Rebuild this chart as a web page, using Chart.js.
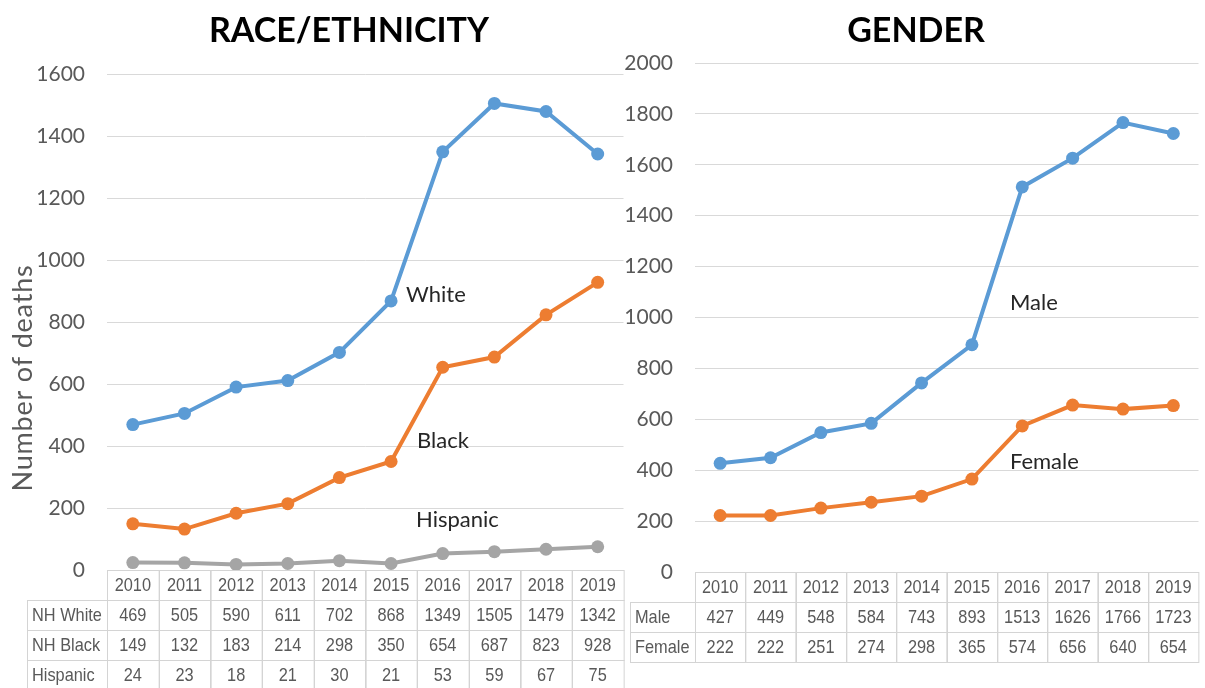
<!DOCTYPE html>
<html>
<head>
<meta charset="utf-8">
<script src="https://cdn.jsdelivr.net/npm/chart.js@4.4.1/dist/chart.umd.min.js"></script>
<style>
  body { margin: 0; background: #fff; width: 1205px; height: 688px; overflow: hidden; position: relative; }
  canvas { position: absolute; top: 0; }
  #race { left: 0; }
  #gender { left: 615px; }
</style>
</head>
<body>
<canvas id="race" width="630" height="688"></canvas>
<canvas id="gender" width="590" height="688"></canvas>
<script>
const years = ['2010', '2011', '2012', '2013', '2014', '2015', '2016', '2017', '2018', '2019'];

const nhWhite = [469, 505, 590, 611, 702, 868, 1349, 1505, 1479, 1342];
const nhBlack = [149, 132, 183, 214, 298, 350, 654, 687, 823, 928];
const hispanic = [24, 23, 18, 21, 30, 21, 53, 59, 67, 75];

const male = [427, 449, 548, 584, 743, 893, 1513, 1626, 1766, 1723];
const female = [222, 222, 251, 274, 298, 365, 574, 656, 640, 654];

const raceRowNames = ['NH White', 'NH Black', 'Hispanic'];
const genderRowNames = ['Male', 'Female'];

const BLUE = '#5B9BD5';
const ORANGE = '#ED7D31';
const GRAY = '#A5A5A5';
const TEXT = '#595959';

// no narrow font installed, so squeeze a normal one
function narrowText(ctx, text, x, y, align) {
  ctx.save();
  ctx.translate(x, y);
  ctx.scale(0.86, 1);
  ctx.textAlign = align;
  ctx.fillText(text, 0, 0);
  ctx.restore();
}

// draws the title, series labels, y title and the Excel-style data table
const extras = {
  id: 'extras',
  afterDraw(chart, args, opts) {
    const ctx = chart.ctx;
    const area = chart.chartArea;
    const x = chart.scales.x;
    ctx.save();

    // title
    ctx.fillStyle = '#000';
    ctx.font = 'bold 34px Lato';
    ctx.textAlign = 'center';
    ctx.textBaseline = 'middle';
    ctx.fillText(opts.title, opts.titleX, 31);

    // y axis title
    if (opts.yTitle) {
      ctx.save();
      ctx.translate(23, opts.yTitleY);
      ctx.rotate(-Math.PI / 2);
      ctx.fillStyle = TEXT;
      ctx.font = '27px Lato';
      ctx.letterSpacing = '0.8px';
      ctx.fillText(opts.yTitle, 0, 0);
      ctx.restore();
    }

    // series labels next to the 2015 points
    ctx.font = '22px Lato';
    ctx.fillStyle = '#262626';
    ctx.textAlign = 'left';
    opts.labels.forEach(l => {
      const pt = chart.getDatasetMeta(l.ds).data[l.idx];
      ctx.fillText(chart.data.datasets[l.ds].label, pt.x + l.dx, pt.y + l.dy);
    });

    // data table
    const half = (x.getPixelForValue(1) - x.getPixelForValue(0)) / 2;
    const rowH = 30;
    const top = area.bottom;
    const left = opts.tableLeft;
    ctx.strokeStyle = '#d4d4d4';
    ctx.lineWidth = 1;
    ctx.font = '19px "Liberation Sans", Arial, sans-serif';
    ctx.fillStyle = TEXT;

    // header row
    years.forEach((y, i) => {
      const cx = x.getPixelForValue(i);
      ctx.strokeRect(Math.round(cx - half) + 0.5, top + 0.5, half * 2, rowH);
      narrowText(ctx, y, cx, top + rowH / 2 + 1, 'center');
    });

    opts.rows.forEach((name, r) => {
      const y0 = top + rowH * (r + 1);
      ctx.strokeRect(left + 0.5, y0 + 0.5, area.left - left, rowH);
      narrowText(ctx, name, left + 5, y0 + rowH / 2 + 1, 'left');
      chart.data.datasets[r].data.forEach((v, i) => {
        const cx = x.getPixelForValue(i);
        ctx.strokeRect(Math.round(cx - half) + 0.5, y0 + 0.5, half * 2, rowH);
        narrowText(ctx, String(v), cx, y0 + rowH / 2 + 1, 'center');
      });
    });
    ctx.restore();
  }
};

function series(label, data, color) {
  return {
    label: label,
    data: data,
    borderColor: color,
    backgroundColor: color,
    borderWidth: 4,
    pointRadius: 6.5,
    pointBorderWidth: 0,
    pointBackgroundColor: color,
    tension: 0
  };
}

function makeChart(id, datasets, yMax, axisWidth, pad, extraOpts) {
  return new Chart(id, {
    type: 'line',
    data: { labels: years, datasets: datasets },
    options: {
      responsive: false,
      animation: false,
      devicePixelRatio: 1,
      layout: { padding: pad },
      plugins: {
        legend: { display: false },
        tooltip: { enabled: false },
        extras: extraOpts
      },
      scales: {
        x: { type: 'category', display: false, offset: true },
        y: {
          min: 0,
          max: yMax,
          afterFit: (scale) => { scale.width = axisWidth; },
          border: { display: false },
          grid: { color: '#d9d9d9', drawTicks: false, lineWidth: 1 },
          ticks: {
            stepSize: 200,
            padding: 22,
            color: TEXT,
            font: { family: 'Lato', size: 21 },
            callback: (v) => String(v)
          }
        }
      }
    },
    plugins: [extras]
  });
}

makeChart('race', [
  series('White', nhWhite, BLUE),
  series('Black', nhBlack, ORANGE),
  series('Hispanic', hispanic, GRAY)
], 1600, 107, { top: 74, bottom: 118, right: 5, left: 0 }, {
  title: 'RACE/ETHNICITY',
  titleX: 349,
  yTitle: 'Number of deaths',
  yTitleY: 378,
  tableLeft: 27,
  rows: raceRowNames,
  labels: [
    { ds: 0, idx: 5, dx: 15, dy: -6 },
    { ds: 1, idx: 5, dx: 26, dy: -21 },
    { ds: 2, idx: 5, dx: 25, dy: -44 }
  ]
});

makeChart('gender', [
  series('Male', male, BLUE),
  series('Female', female, ORANGE)
], 2000, 80, { top: 63, bottom: 116, right: 3, left: 0 }, {
  title: 'GENDER',
  titleX: 301,
  yTitle: null,
  tableLeft: 15,
  rows: genderRowNames,
  labels: [
    { ds: 0, idx: 5, dx: 38, dy: -42 },
    { ds: 1, idx: 5, dx: 38, dy: -17 }
  ]
});
</script>
</body>
</html>
